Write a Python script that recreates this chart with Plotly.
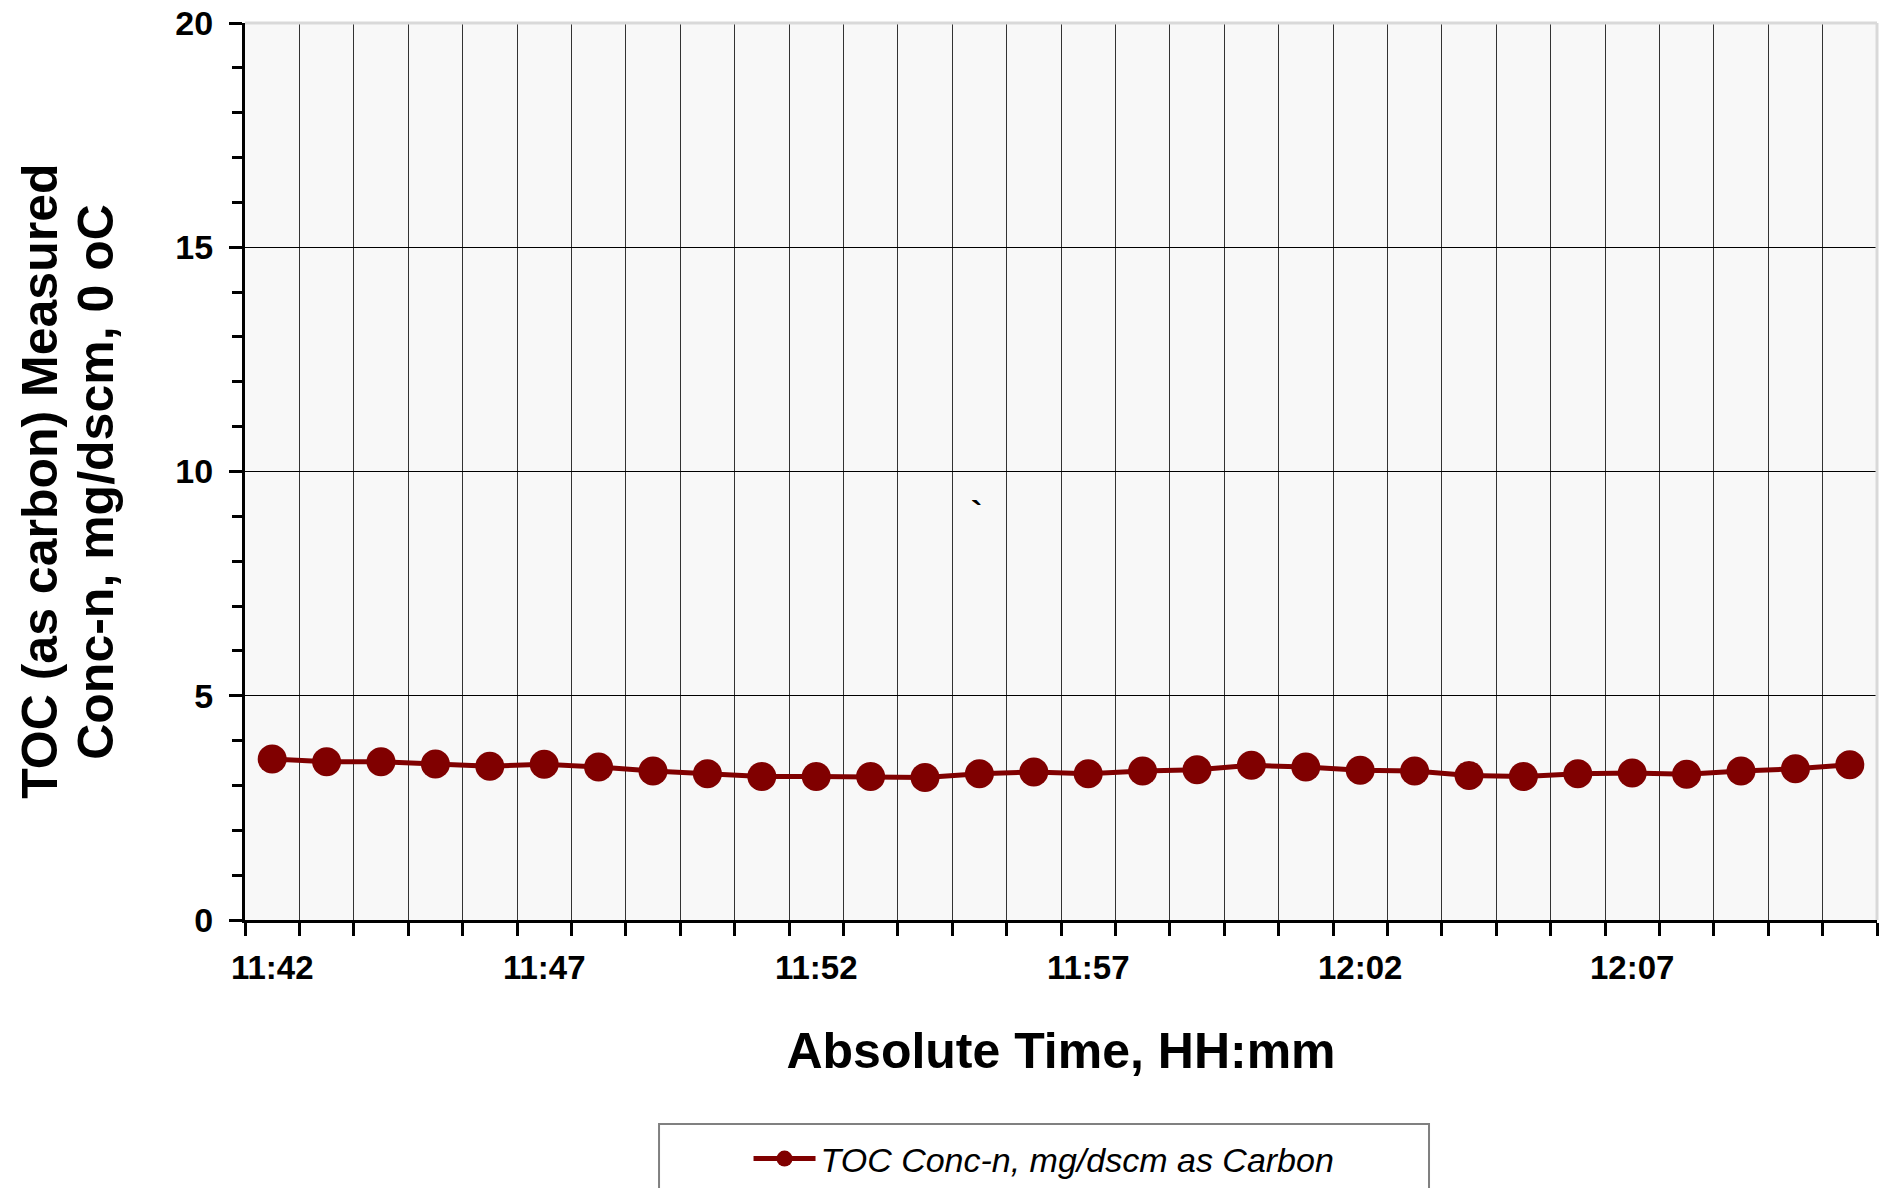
import plotly.graph_objects as go

# ---- data ----
times = ["11:42", "11:43", "11:44", "11:45", "11:46", "11:47", "11:48", "11:49",
         "11:50", "11:51", "11:52", "11:53", "11:54", "11:55", "11:56", "11:57",
         "11:58", "11:59", "12:00", "12:01", "12:02", "12:03", "12:04", "12:05",
         "12:06", "12:07", "12:08", "12:09", "12:10", "12:11"]
toc_conc = [3.59, 3.53, 3.53, 3.48, 3.43, 3.47, 3.41, 3.32, 3.26, 3.20,
            3.20, 3.20, 3.18, 3.26, 3.30, 3.26, 3.32, 3.35, 3.45, 3.41,
            3.34, 3.32, 3.22, 3.20, 3.26, 3.28, 3.25, 3.32, 3.37, 3.46]
series_name = "TOC Conc-n, mg/dscm as Carbon"
y_title_lines = ["TOC (as carbon) Measured", "Conc-n, mg/dscm, 0 oC"]
x_title = "Absolute Time, HH:mm"
y_ticks = [0, 5, 10, 15, 20]
label_step = 5

FONT = "Liberation Sans, Arial, sans-serif"
RED = "#800000"

n = len(times)
xpos = list(range(n))

fig = go.Figure()
fig.add_trace(go.Scatter(
    x=xpos, y=toc_conc, mode="lines+markers", name=series_name,
    line=dict(color=RED, width=5),
    marker=dict(color=RED, size=29, symbol="circle"),
))

# stray backtick mark on the chart
fig.add_annotation(x=12.95, y=9.1, text="`", showarrow=False,
                   font=dict(family=FONT, size=34, color="black", weight="bold"))

# y-axis title (two rotated lines)
for xp, line in zip([-0.1256, -0.0913], y_title_lines):
    fig.add_annotation(xref="paper", yref="paper", x=xp, y=0.4885, text=line,
                       textangle=-90, showarrow=False, xanchor="center", yanchor="middle",
                       font=dict(family=FONT, size=50, weight="bold", color="black"))

fig.update_layout(
    width=1883, height=1188,
    paper_bgcolor="white", plot_bgcolor="#f8f8f8",
    margin=dict(l=245, r=6, t=23, b=268, autoexpand=False),
    font=dict(family=FONT, color="black"),
    showlegend=True,
    legend=dict(orientation="h", x=0.4896, xanchor="center", y=-0.2664, yanchor="middle",
                bgcolor="rgba(0,0,0,0)", borderwidth=0,
                font=dict(family=FONT, size=34, style="italic", color="black"),
                itemwidth=62),
    xaxis=dict(
        range=[-0.5, n - 0.5], automargin=False,
        tickvals=xpos[::label_step], ticktext=times[::label_step],
        ticks="", showgrid=False, zeroline=False,
        showline=True, linecolor="black", linewidth=3,
        tickfont=dict(family=FONT, size=33, weight="bold", color="black"),
        ticklabelstandoff=16,
        minor=dict(tickvals=[i - 0.5 for i in range(n + 1)], ticks="outside",
                   ticklen=13, tickwidth=3, tickcolor="black",
                   showgrid=True, gridcolor="#333333", gridwidth=1),
        title=dict(text=x_title, standoff=49,
                   font=dict(family=FONT, size=50, weight="bold", color="black")),
    ),
    yaxis=dict(
        range=[0, 20], tickvals=y_ticks, automargin=False,
        ticks="outside", ticklen=13, tickwidth=3, tickcolor="black",
        showgrid=True, gridcolor="black", gridwidth=1, zeroline=False,
        showline=True, linecolor="black", linewidth=3,
        tickfont=dict(family=FONT, size=34, weight="bold", color="black"),
        ticklabelstandoff=9,
        minor=dict(dtick=1, ticks="outside", ticklen=10, tickwidth=3,
                   tickcolor="black", showgrid=False),
    ),
    shapes=[
        dict(type="line", xref="paper", yref="paper", x0=0, x1=1, y0=1, y1=1,
             line=dict(color="#d9d9d9", width=3), layer="above"),
        dict(type="line", xref="paper", yref="paper", x0=1, x1=1, y0=0, y1=1,
             line=dict(color="#d9d9d9", width=3), layer="above"),
        dict(type="rect", xref="paper", yref="paper", x0=0.2537, x1=0.7255,
             y0=-0.2274, y1=-0.32, line=dict(color="#808080", width=2),
             fillcolor="rgba(0,0,0,0)", layer="above"),
    ],
)

fig.write_html("out.html", config={"displayModeBar": False},
               post_script="document.body.style.margin='0px';")
